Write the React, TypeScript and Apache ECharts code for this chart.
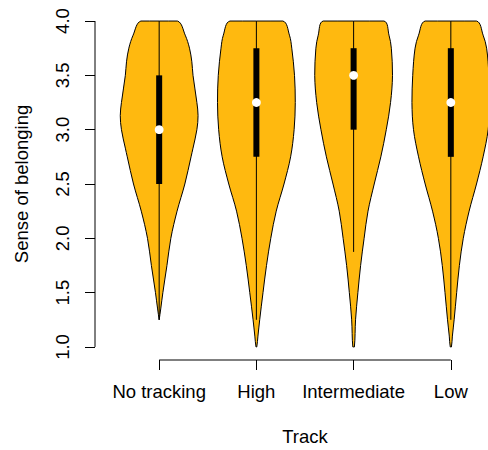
import React, { useEffect, useRef } from "react";
import * as echarts from "echarts";

const categories = ["No tracking", "High", "Intermediate", "Low"];
const yTickValues = [1.0, 1.5, 2.0, 2.5, 3.0, 3.5, 4.0];

// Violin half-width profiles, [value, relative density (0..1)]
const noTrackingDensity = [
  [4.0, 0.47], [3.87, 0.67], [3.75, 0.78], [3.625, 0.84], [3.5, 0.87],
  [3.25, 0.97], [3.13, 1.0], [3.0, 0.97], [2.83, 0.87], [2.75, 0.82],
  [2.5, 0.66], [2.25, 0.46], [2.0, 0.3], [1.75, 0.2], [1.5, 0.095],
  [1.35, 0.04], [1.25, 0.0],
];
const highDensity = [
  [4.0, 0.68], [3.87, 0.85], [3.75, 0.91], [3.5, 0.98], [3.25, 1.0],
  [3.0, 0.97], [2.75, 0.88], [2.5, 0.71], [2.25, 0.51], [2.0, 0.37],
  [1.75, 0.26], [1.5, 0.17], [1.25, 0.085], [1.1, 0.04], [1.0, 0.01],
];
const intermediateDensity = [
  [4.0, 0.78], [3.87, 0.91], [3.75, 0.97], [3.5, 1.0], [3.25, 0.95],
  [3.0, 0.84], [2.75, 0.7], [2.5, 0.53], [2.25, 0.37], [2.0, 0.27],
  [1.75, 0.18], [1.5, 0.11], [1.25, 0.05], [1.0, 0.02],
];
const lowDensity = [
  [4.0, 0.66], [3.87, 0.83], [3.75, 0.92], [3.5, 0.98], [3.25, 1.0],
  [3.0, 0.96], [2.75, 0.83], [2.5, 0.66], [2.25, 0.47], [2.0, 0.32],
  [1.75, 0.22], [1.5, 0.15], [1.25, 0.085], [1.1, 0.04], [1.0, 0.015],
];
const densities = [noTrackingDensity, highDensity, intermediateDensity, lowDensity];

const medians = [3.0, 3.25, 3.5, 3.25];
const q1 = [2.5, 2.75, 3.0, 2.75];
const q3 = [3.5, 3.75, 3.75, 3.75];
const whiskerLow = [1.25, 1.25, 1.875, 1.25];
const whiskerHigh = [4.0, 4.0, 4.0, 4.0];

const X_MIN = 0.34;
const X_MAX = 4.66;
const Y_MIN = 0.88;
const Y_MAX = 4.12;
const HALF_WIDTH = 0.4;
const FILL = "#FFB90F";
const FONT = "'Liberation Sans', Arial, sans-serif";
const FS = 18.5;

export default function App() {
  const ref = useRef<HTMLDivElement>(null);

  useEffect(() => {
    document.body.style.margin = "0";
    const chart = echarts.init(ref.current!, null, { renderer: "svg" });

    const violinRender = (params: any, api: any) => {
      const i = params.dataIndex;
      const cat = i + 1;
      const prof = densities[i];
      const pts: number[][] = [];
      for (let k = 0; k < prof.length; k++) {
        pts.push(api.coord([cat - prof[k][1] * HALF_WIDTH, prof[k][0]]));
      }
      for (let k = prof.length - 1; k >= 0; k--) {
        pts.push(api.coord([cat + prof[k][1] * HALF_WIDTH, prof[k][0]]));
      }
      let minX = Infinity, minY = Infinity, maxX = -Infinity, maxY = -Infinity;
      for (const p of pts) {
        minX = Math.min(minX, p[0]); maxX = Math.max(maxX, p[0]);
        minY = Math.min(minY, p[1]); maxY = Math.max(maxY, p[1]);
      }
      const wTop = api.coord([cat, whiskerHigh[i]]);
      const wBot = api.coord([cat, whiskerLow[i]]);
      const bTop = api.coord([cat, q3[i]]);
      const bBot = api.coord([cat, q1[i]]);
      const med = api.coord([cat, medians[i]]);
      const boxW = 6;
      return {
        type: "group",
        children: [
          {
            type: "polygon",
            shape: {
              points: pts,
              smooth: 0.35,
              smoothConstraint: [[minX, minY], [maxX, maxY]],
            },
            style: { fill: FILL, stroke: "#000", lineWidth: 1 },
          },
          {
            type: "line",
            shape: { x1: wTop[0], y1: wTop[1], x2: wBot[0], y2: wBot[1] },
            style: { stroke: "#000", lineWidth: 1 },
          },
          {
            type: "rect",
            shape: { x: bTop[0] - boxW / 2, y: bTop[1], width: boxW, height: bBot[1] - bTop[1] },
            style: { fill: "#000" },
          },
          {
            type: "circle",
            shape: { cx: med[0], cy: med[1], r: 4.4 },
            style: { fill: "#fff" },
          },
        ],
      };
    };

    const axisLineRender = (params: any, api: any) => {
      const yA = api.coord([X_MIN, yTickValues[0]]);
      const yB = api.coord([X_MIN, yTickValues[yTickValues.length - 1]]);
      const xA = api.coord([1, Y_MIN]);
      const xB = api.coord([categories.length, Y_MIN]);
      return {
        type: "group",
        children: [
          {
            type: "line",
            shape: { x1: yA[0], y1: yA[1], x2: yB[0], y2: yB[1] },
            style: { stroke: "#000", lineWidth: 1 },
          },
          {
            type: "line",
            shape: { x1: xA[0], y1: xA[1], x2: xB[0], y2: xB[1] },
            style: { stroke: "#000", lineWidth: 1 },
          },
        ],
      };
    };

    const ticksX = categories.map((_, i) => i + 1);

    chart.setOption({
      animation: false,
      backgroundColor: "#fff",
      grid: { left: 95, top: 8, width: 420, height: 352, outerBoundsMode: "none", containLabel: false },
      xAxis: {
        type: "value",
        min: X_MIN,
        max: X_MAX,
        splitLine: { show: false },
        axisLine: { show: false },
        axisTick: {
          show: true,
          length: 10,
          customValues: ticksX,
          lineStyle: { color: "#000", width: 1 },
        },
        axisLabel: {
          show: true,
          margin: 22,
          customValues: ticksX,
          formatter: (v: number) => categories[Math.round(v) - 1] || "",
          fontSize: FS,
          fontFamily: FONT,
          color: "#000",
        },
        name: "Track",
        nameLocation: "middle",
        nameGap: 67,
        nameTextStyle: { fontSize: FS, fontFamily: FONT, color: "#000" },
      },
      yAxis: {
        type: "value",
        min: Y_MIN,
        max: Y_MAX,
        splitLine: { show: false },
        axisLine: { show: false },
        axisTick: {
          show: true,
          length: 10,
          customValues: yTickValues,
          lineStyle: { color: "#000", width: 1 },
        },
        axisLabel: {
          show: true,
          rotate: 90,
          margin: 23,
          customValues: yTickValues,
          formatter: (v: number) => v.toFixed(1),
          fontSize: FS,
          fontFamily: FONT,
          color: "#000",
        },
        name: "Sense of belonging",
        nameLocation: "middle",
        nameGap: 64,
        nameRotate: 90,
        nameTextStyle: { fontSize: FS, fontFamily: FONT, color: "#000" },
      },
      series: [
        {
          type: "custom",
          renderItem: axisLineRender,
          data: [[1, 1]],
          silent: true,
          clip: false,
        },
        {
          type: "custom",
          renderItem: violinRender,
          data: medians.map((m, i) => [i + 1, m]),
          silent: true,
          clip: false,
        },
      ],
    });

    return () => chart.dispose();
  }, []);

  return (
    <div
      ref={ref}
      style={{ position: "absolute", left: 0, top: 0, width: 488, height: 450 }}
    />
  );
}
